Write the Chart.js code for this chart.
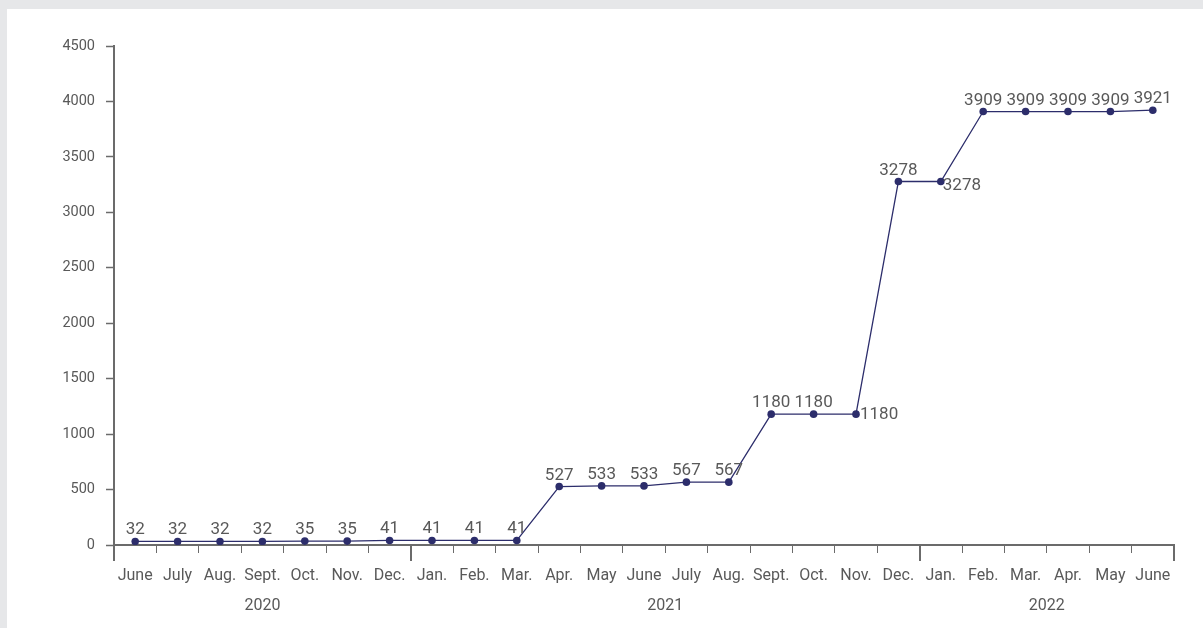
<!DOCTYPE html>
<html>
<head>
<meta charset="utf-8">
<script src="https://cdn.jsdelivr.net/npm/chart.js@4"></script>
<style>
  html, body { margin: 0; padding: 0; background: #e6e7e9; }
  #panel { position: absolute; left: 7px; top: 9px; width: 1196px; height: 619px; background: #fff; }
</style>
</head>
<body>
<div id="panel"><canvas id="chart" width="1196" height="619"></canvas></div>
<script>
const months = ["June", "July", "Aug.", "Sept.", "Oct.", "Nov.", "Dec.",
  "Jan.", "Feb.", "Mar.", "Apr.", "May", "June", "July", "Aug.", "Sept.", "Oct.", "Nov.", "Dec.",
  "Jan.", "Feb.", "Mar.", "Apr.", "May", "June"];
const values = [32, 32, 32, 32, 35, 35, 41, 41, 41, 41, 527, 533, 533, 567, 567,
  1180, 1180, 1180, 3278, 3278, 3909, 3909, 3909, 3909, 3921];
const years = ["2020", "2021", "2022"];
const yearStart = [0, 7, 19];
const yearEnd = [6, 18, 24];
const yTicks = [0, 500, 1000, 1500, 2000, 2500, 3000, 3500, 4000, 4500];

const textColor = "#595959";
const axisColor = "#6b6b6b";
const lineColor = "#2c2d6b";

// value labels, a few of them sit to the right of the point
const valueLabels = {
  id: "valueLabels",
  afterDatasetsDraw(chart) {
    const ctx = chart.ctx;
    const meta = chart.getDatasetMeta(0);
    ctx.save();
    ctx.fillStyle = textColor;
    ctx.font = "17px Roboto";
    meta.data.forEach((pt, i) => {
      const txt = String(values[i]);
      if (i === 17) {
        ctx.textAlign = "left";
        ctx.textBaseline = "middle";
        ctx.fillText(txt, pt.x + 4, pt.y + 1);
      } else if (i === 19) {
        ctx.textAlign = "left";
        ctx.textBaseline = "top";
        ctx.fillText(txt, pt.x + 2, pt.y - 4);
      } else {
        ctx.textAlign = "center";
        ctx.textBaseline = "alphabetic";
        ctx.fillText(txt, pt.x, pt.y - 7);
      }
    });
    ctx.restore();
  }
};

// year row and the long separator ticks under the x axis
const yearRow = {
  id: "yearRow",
  afterDraw(chart) {
    const ctx = chart.ctx;
    const x = chart.scales.x;
    const half = (x.getPixelForValue(1) - x.getPixelForValue(0)) / 2;
    ctx.save();
    ctx.strokeStyle = axisColor;
    ctx.lineWidth = 2;
    const bounds = [x.getPixelForValue(0) - half];
    yearEnd.forEach(e => bounds.push(x.getPixelForValue(e) + half));
    bounds.forEach(b => {
      ctx.beginPath();
      ctx.moveTo(Math.round(b), x.top);
      ctx.lineTo(Math.round(b), x.top + 16);
      ctx.stroke();
    });
    ctx.fillStyle = textColor;
    ctx.font = "16px Roboto";
    ctx.textAlign = "center";
    ctx.textBaseline = "middle";
    years.forEach((y, i) => {
      const cx = (x.getPixelForValue(yearStart[i]) + x.getPixelForValue(yearEnd[i])) / 2;
      ctx.fillText(y, cx, x.top + 61);
    });
    ctx.restore();
  }
};

new Chart(document.getElementById("chart"), {
  type: "line",
  data: {
    labels: months,
    datasets: [{
      data: values,
      borderColor: lineColor,
      backgroundColor: lineColor,
      borderWidth: 1.3,
      pointRadius: 3.8,
      pointBackgroundColor: lineColor,
      pointBorderWidth: 0,
      tension: 0
    }]
  },
  options: {
    responsive: false,
    animation: false,
    layout: { padding: { top: 37, right: 29, left: 0, bottom: 0 } },
    plugins: { legend: { display: false }, tooltip: { enabled: false } },
    scales: {
      x: {
        offset: true,
        grid: { offset: true, drawOnChartArea: false, tickLength: 8, tickColor: axisColor, tickWidth: 1 },
        border: { color: axisColor, width: 2 },
        ticks: { color: textColor, font: { family: "Roboto", size: 16 }, padding: 13, maxRotation: 0, autoSkip: false },
        afterFit(scale) { scale.height = 83; }
      },
      y: {
        min: 0,
        max: 4500,
        afterBuildTicks(scale) { scale.ticks = yTicks.map(v => ({ value: v })); },
        grid: { drawOnChartArea: false, tickLength: 8, tickColor: axisColor, tickWidth: 1.5 },
        border: { color: axisColor, width: 2 },
        ticks: {
          color: textColor,
          font: { family: "Roboto", size: 14.5 },
          padding: 11,
          callback: v => String(v)
        },
        afterFit(scale) { scale.width = 107; }
      }
    }
  },
  plugins: [valueLabels, yearRow]
});
</script>
</body>
</html>
